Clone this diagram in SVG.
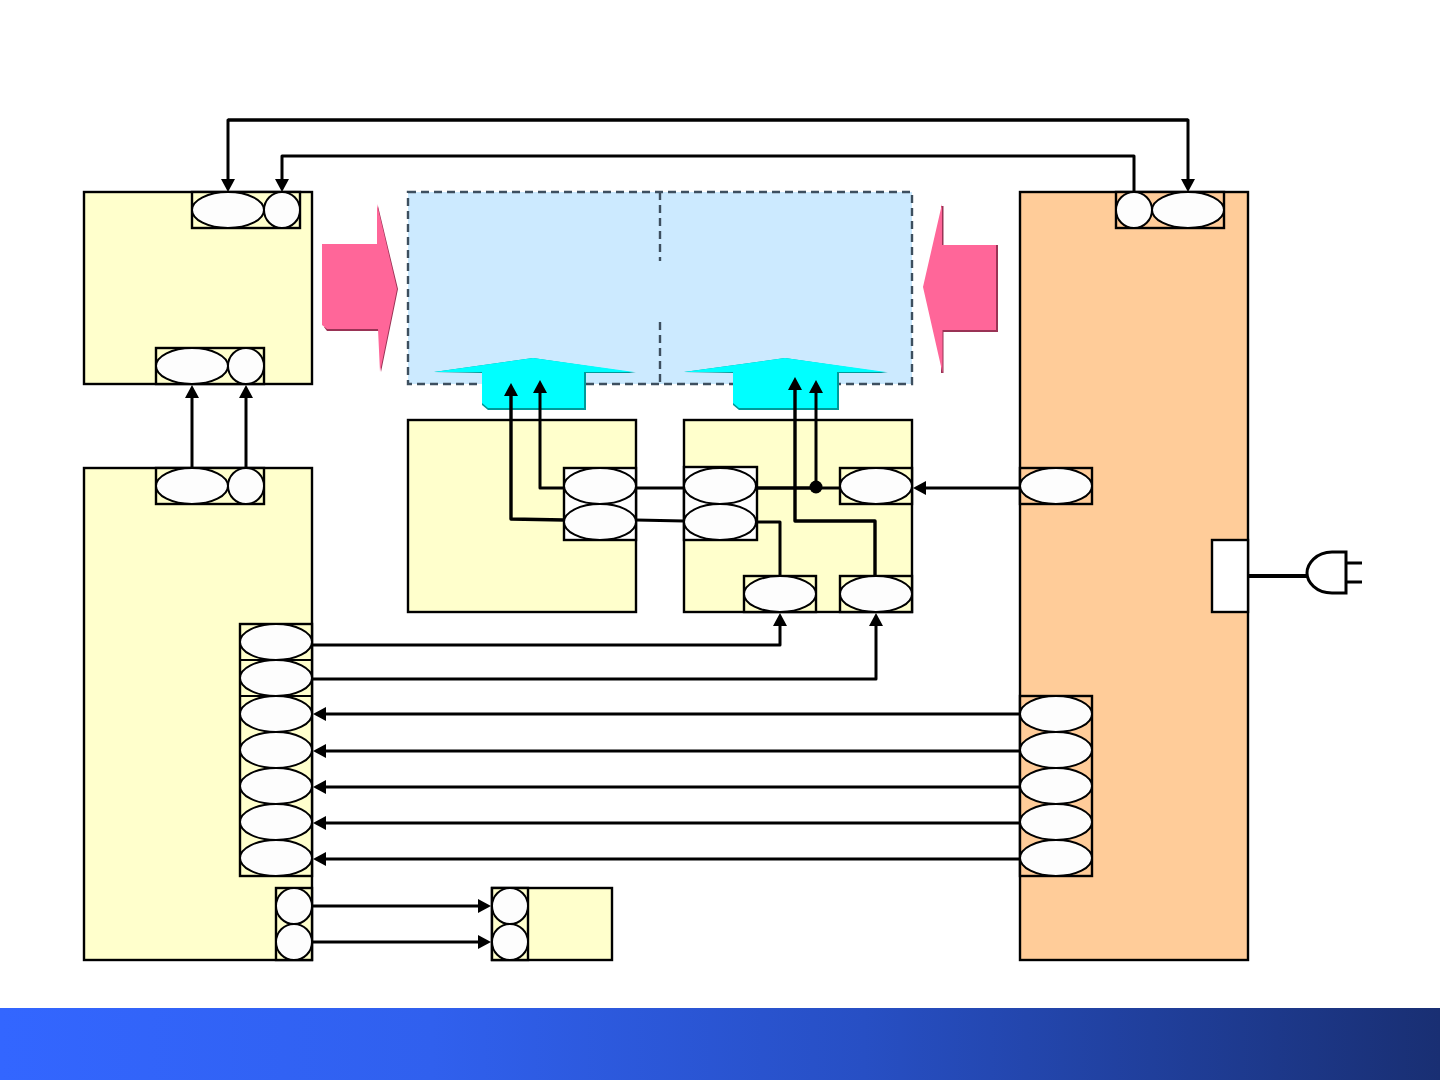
<svg xmlns="http://www.w3.org/2000/svg" width="1440" height="1080" viewBox="0 0 1440 1080">
<defs>
<linearGradient id="bar" x1="0" y1="0" x2="1" y2="0"><stop offset="0" stop-color="#3366ff"/><stop offset="0.3" stop-color="#3060ee"/><stop offset="0.6" stop-color="#274fc4"/><stop offset="1" stop-color="#192f73"/></linearGradient>
<marker id="ah" markerUnits="userSpaceOnUse" markerWidth="13" markerHeight="14" refX="6" refY="7" orient="auto"><path d="M0 0L13 7L0 14Z" fill="#000"/></marker>
</defs>
<style>
.y{fill:#ffffcc;stroke:#000;stroke-width:2.4}
.o{fill:#ffcc99;stroke:#000;stroke-width:2.4}
.b{fill:#fff;stroke:#000;stroke-width:2.4}
.w{fill:#fdfdfd;stroke:#000;stroke-width:2}
.c{fill:none;stroke:#000;stroke-width:3;stroke-linejoin:round}
.t{stroke-width:3.4}
.a{marker-end:url(#ah)}
.d{fill:none;stroke:#3d4f5f;stroke-width:2.4;stroke-dasharray:8 5}
</style>
<rect width="1440" height="1080" fill="#fff"/>
<rect id="footer" x="0" y="1008" width="1440" height="72" fill="url(#bar)"/>
<g id="panel"><rect x="408" y="192" width="504" height="192" fill="#cceaff"/>
<rect class="d" x="408" y="192" width="504" height="192"/>
<path class="d" d="M660 192V261M660 322V384"/></g>
<g id="arrow-left"><path d="M378 206L398 289L381 372L380 331H327L324 327H376Z" fill="#993355"/><path d="M322 244H377V204L397 289L380 372L378 329H327L322 325Z" fill="#ff6699"/></g>
<g id="arrow-right"><path d="M941 206H943.500V245H998V332H943.500V373H941Z" fill="#993355"/><path d="M942 204V245H996V330H942.500V373L923 287Z" fill="#ff6699"/></g>
<g id="arrow-up-1"><path d="M434 372L533 358L636 373H586V410H488L482 405V373Z" fill="#009999"/><path d="M434 372L533 358L634 372H584V408H488L482 403V372Z" fill="#00ffff"/></g>
<g id="arrow-up-2"><path d="M684 372L785 358L888 373H839V410H739L733 405V373Z" fill="#009999"/><path d="M684 372L785 358L886 372H837V408H739L733 403V372Z" fill="#00ffff"/></g>
<g id="node-a"><rect class="y" x="84" y="192" width="228" height="192"/><rect class="y" x="192" y="192" width="108" height="36"/><ellipse class="w" cx="228" cy="210" rx="36" ry="18"/><ellipse class="w" cx="282" cy="210" rx="18" ry="18"/><rect class="y" x="156" y="348" width="108" height="36"/><ellipse class="w" cx="192" cy="366" rx="36" ry="18"/><ellipse class="w" cx="246" cy="366" rx="18" ry="18"/></g>
<g id="node-b"><rect class="y" x="84" y="468" width="228" height="492"/><rect class="y" x="156" y="468" width="108" height="36"/><ellipse class="w" cx="192" cy="486" rx="36" ry="18"/><ellipse class="w" cx="246" cy="486" rx="18" ry="18"/>
<rect class="y" x="240" y="624" width="72" height="252"/><path class="c" style="stroke-width:2" d="M240 660H312M240 696H312"/>
<ellipse class="w" cx="276" cy="642" rx="36" ry="18"/><ellipse class="w" cx="276" cy="678" rx="36" ry="18"/><ellipse class="w" cx="276" cy="714" rx="36" ry="18"/><ellipse class="w" cx="276" cy="750" rx="36" ry="18"/><ellipse class="w" cx="276" cy="786" rx="36" ry="18"/><ellipse class="w" cx="276" cy="822" rx="36" ry="18"/><ellipse class="w" cx="276" cy="858" rx="36" ry="18"/>
<rect class="y" x="276" y="888" width="36" height="72"/><ellipse class="w" cx="294" cy="906" rx="18" ry="18"/><ellipse class="w" cx="294" cy="942" rx="18" ry="18"/></g>
<g id="node-c"><rect class="y" x="492" y="888" width="120" height="72"/><rect class="y" x="492" y="888" width="36" height="72"/><ellipse class="w" cx="510" cy="906" rx="18" ry="18"/><ellipse class="w" cx="510" cy="942" rx="18" ry="18"/></g>
<g id="node-d"><rect class="y" x="408" y="420" width="228" height="192"/><rect class="b" x="564" y="468" width="72" height="72"/><ellipse class="w" cx="600" cy="486" rx="36" ry="18"/><ellipse class="w" cx="600" cy="522" rx="36" ry="18"/></g>
<g id="node-e"><rect class="y" x="684" y="420" width="228" height="192"/><rect class="b" x="684" y="467" width="73" height="73"/><ellipse class="w" cx="720" cy="486" rx="36" ry="18"/><ellipse class="w" cx="720" cy="522" rx="36" ry="18"/>
<rect class="y" x="840" y="468" width="72" height="36"/><ellipse class="w" cx="876" cy="486" rx="36" ry="18"/>
<rect class="y" x="744" y="576" width="72" height="36"/><ellipse class="w" cx="780" cy="594" rx="36" ry="18"/>
<rect class="y" x="840" y="576" width="72" height="36"/><ellipse class="w" cx="876" cy="594" rx="36" ry="18"/></g>
<g id="node-f"><rect class="o" x="1020" y="192" width="228" height="768"/><rect class="o" x="1116" y="192" width="108" height="36"/><ellipse class="w" cx="1134" cy="210" rx="18" ry="18"/><ellipse class="w" cx="1188" cy="210" rx="36" ry="18"/>
<rect class="o" x="1020" y="468" width="72" height="36"/><ellipse class="w" cx="1056" cy="486" rx="36" ry="18"/>
<rect class="o" x="1020" y="696" width="72" height="180"/>
<ellipse class="w" cx="1056" cy="714" rx="36" ry="18"/><ellipse class="w" cx="1056" cy="750" rx="36" ry="18"/><ellipse class="w" cx="1056" cy="786" rx="36" ry="18"/><ellipse class="w" cx="1056" cy="822" rx="36" ry="18"/><ellipse class="w" cx="1056" cy="858" rx="36" ry="18"/>
<rect class="b" x="1212" y="540" width="36" height="72"/></g>
<g id="plug"><path d="M1249 576H1307" fill="none" stroke="#000" stroke-width="4"/><path d="M1346 552H1332C1316 552 1307 564 1307 573C1307 582 1316 593 1332 593H1346Z" fill="#fff" stroke="#000" stroke-width="3"/><path d="M1346 563H1362M1346 582H1362" fill="none" stroke="#000" stroke-width="3"/></g>
<g id="connectors">
<path class="c a" d="M1188 120H228V185"/>
<path class="c a" d="M228 120H1188V185"/>
<path class="c a" d="M1134 192V156H282V185"/>
<path class="c a" d="M192 468V392"/><path class="c a" d="M246 468V392"/>
<path class="c a" d="M564 488H540V387"/>
<path class="c t a" d="M564 520L511 519V390"/>
<path class="c" d="M636 488H684"/><path class="c" d="M636 520L684 521"/>
<path class="c a" d="M757 488H816V387"/>
<path class="c" d="M757 488H840"/>
<circle cx="816" cy="487" r="6.500" fill="#000"/>
<path class="c" d="M757 522L780 522V576"/>
<path class="c t a" d="M875 576V521H795V384"/>
<path class="c a" d="M1020 488H920"/>
<path class="c a" d="M312 645H780V620"/>
<path class="c a" d="M312 679H876V620"/>
<path class="c a" d="M1020 714H320"/><path class="c a" d="M1020 751H320"/><path class="c a" d="M1020 787H320"/><path class="c a" d="M1020 823H320"/><path class="c a" d="M1020 859H320"/>
<path class="c a" d="M312 906H484"/><path class="c a" d="M312 942H484"/>
</g>
</svg>
